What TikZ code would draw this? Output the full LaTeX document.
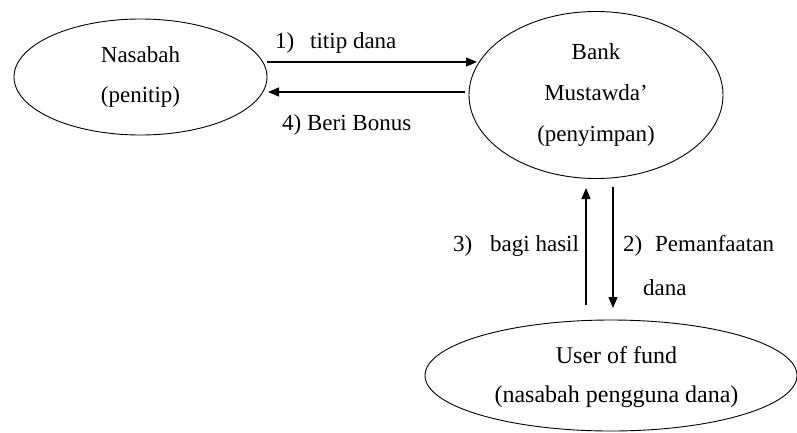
\documentclass[tikz,border=0pt]{standalone}
\usepackage{fontspec}
\setmainfont{Liberation Serif}
\usetikzlibrary{shapes.geometric,arrows.meta}
\tikzset{
  party/.style={ellipse, draw, line width=0.9pt, inner sep=0pt, align=center,
    font=\fontsize{23}{40}\selectfont},
  flow/.style={line width=1.2pt, -{Triangle[length=11pt,width=9pt]}},
  lbl/.style={inner sep=0pt, anchor=base west, font=\fontsize{23}{28}\selectfont}
}
\begin{document}
\begin{tikzpicture}[x=1pt,y=-1pt]
\useasboundingbox (0,0) rectangle (797,432);

% the three parties
\node[party, minimum width=253pt, minimum height=116pt] (nasabah) at (140.5,77)
  {Nasabah\\(penitip)};
\node[party, minimum width=254pt, minimum height=167pt,
  font=\fontsize{23}{41}\selectfont] (bank) at (596,95)
  {Bank\\Mustawda\textquoteright\\(penyimpan)};
\node[party, minimum width=372pt, minimum height=111pt] (user) at (611,375.5) {};
\node[align=center, inner sep=0pt, font=\fontsize{24}{39}\selectfont]
  (usertxt) at (616.5,377) {User of fund\\(nasabah pengguna dana)};

% end points of the flows
\coordinate (tipA) at (477,62);
\coordinate (startB) at (465,92);
\coordinate (tipB) at (268,92);
\coordinate (upS) at (586,305);
\coordinate (upT) at (586,188);
\coordinate (dnS) at (613,187);
\coordinate (dnT) at (613,308);

% 1) deposit and 4) bonus
\draw[flow] (nasabah.east |- tipA) -- (tipA);
\draw[flow] (startB) -- (tipB);
% 3) profit sharing and 2) use of funds
\draw[flow] (upS) -- (upT);
\draw[flow] (dnS) -- (dnT);

% labels
\node[lbl] (l1a) at (275,48) {1)};
\node[lbl] (l1b) at (310,48) {titip dana};
\node[lbl] (l4) at (282,130) {4) Beri Bonus};
\node[lbl] (l3a) at (453,251) {3)};
\node[lbl] (l3b) at (490,251) {bagi hasil};
\node[lbl] (l2a) at (623,251) {2)};
\node[lbl] (l2b) at (655,251) {Pemanfaatan};
\node[lbl] (l2c) at (643,295) {dana};
\end{tikzpicture}
\end{document}
